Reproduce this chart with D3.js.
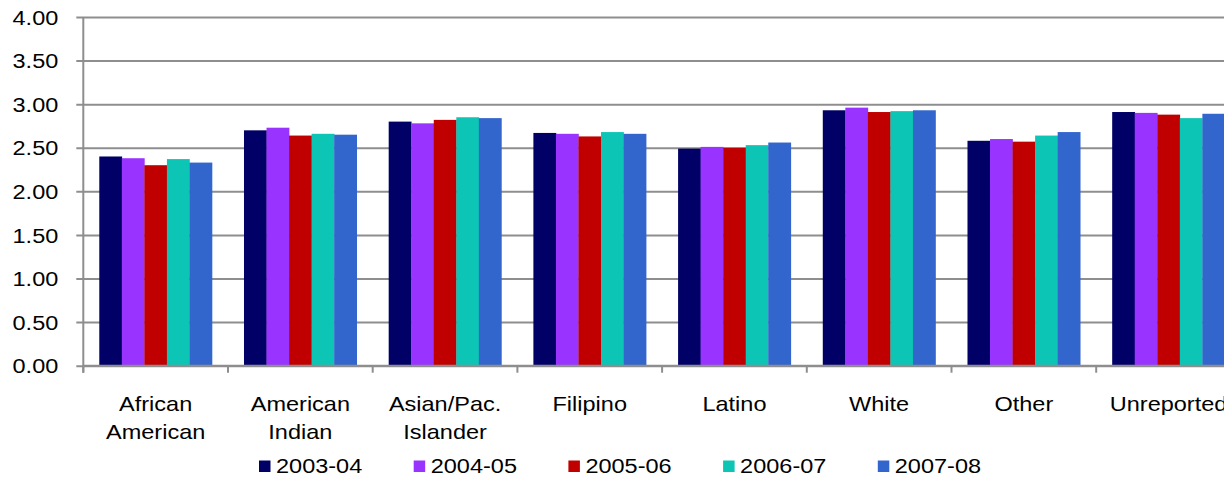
<!DOCTYPE html>
<html>
<head>
<meta charset="utf-8">
<script src="https://cdn.jsdelivr.net/npm/d3@7"></script>
<style>
  html, body { margin: 0; padding: 0; background: #fff; }
  svg { display: block; }
  text { font-family: "Liberation Sans", Arial, sans-serif; fill: #000; }
</style>
</head>
<body>
<svg id="chart" width="1224" height="479"></svg>
<script>
const categories = ["African American", "American Indian", "Asian/Pac. Islander", "Filipino", "Latino", "White", "Other", "Unreported"];
const seriesNames = ["2003-04", "2004-05", "2005-06", "2006-07", "2007-08"];
const s2003 = [2.40, 2.70, 2.80, 2.67, 2.49, 2.93, 2.58, 2.91];
const s2004 = [2.38, 2.73, 2.78, 2.66, 2.51, 2.96, 2.60, 2.90];
const s2005 = [2.30, 2.64, 2.82, 2.63, 2.50, 2.91, 2.57, 2.88];
const s2006 = [2.37, 2.66, 2.85, 2.68, 2.53, 2.92, 2.64, 2.84];
const s2007 = [2.33, 2.65, 2.84, 2.66, 2.56, 2.93, 2.68, 2.89];
const seriesValues = [s2003, s2004, s2005, s2006, s2007];
const colors = ["#000066", "#9933FF", "#C00000", "#0CC5B4", "#3366CC"];
const yTicks = [0, 0.5, 1, 1.5, 2, 2.5, 3, 3.5, 4];

(function () {
const svg = d3.select("#chart");
const pLeft = 83.3, step = 144.7;
const pRight = pLeft + step * categories.length;
const pTop = 17, pBottom = 365.7;
const sx = 1.12, fs = 21;

const y = d3.scaleLinear().domain([0, 4]).range([pBottom, pTop]);
const x0 = d3.scaleBand().domain(categories).range([pLeft, pRight])
  .paddingInner(0.221).paddingOuter(0.1105);
const x1 = d3.scaleBand().domain(seriesNames).range([0, x0.bandwidth()]);

// gridlines + y labels
const yAxis = svg.append("g").attr("transform", `translate(${pLeft},0)`)
  .call(d3.axisLeft(y).tickValues(yTicks).tickFormat(d3.format(".2f")).tickSize(0).tickPadding(0));
yAxis.select(".domain").remove();
yAxis.selectAll(".tick line")
  .attr("x1", -7).attr("x2", pRight - pLeft)
  .attr("stroke", "#8e8e8e").attr("stroke-width", 2);
yAxis.selectAll(".tick text")
  .attr("x", null).attr("dy", "0.34em")
  .attr("transform", `translate(-25,0) scale(${sx},1)`)
  .attr("font-size", fs).attr("text-anchor", "end").attr("fill", "#000");

// bars
const rows = categories.map((c, i) => ({ c, vals: seriesNames.map((s, j) => ({ s, v: seriesValues[j][i], color: colors[j] })) }));
const groups = svg.append("g").selectAll("g").data(rows).join("g")
  .attr("transform", d => `translate(${x0(d.c)},0)`);
groups.selectAll("rect").data(d => d.vals).join("rect")
  .attr("x", d => x1(d.s))
  .attr("width", x1.bandwidth() + 0.3)
  .attr("y", d => y(d.v))
  .attr("height", d => y(0) - y(d.v))
  .attr("fill", d => d.color);

// y axis line
svg.append("line").attr("x1", pLeft).attr("x2", pLeft).attr("y1", pTop).attr("y2", pBottom + 7)
  .attr("stroke", "#8e8e8e").attr("stroke-width", 2);

// x axis
const xAxis = svg.append("g").attr("transform", `translate(0,${pBottom})`)
  .call(d3.axisBottom(x0).tickSize(0).tickPadding(0));
xAxis.select(".domain").attr("stroke", "#8e8e8e").attr("stroke-width", 2)
  .attr("d", `M${pLeft},0H${pRight}`);
const boundaries = categories.map(c => x0(c) - (x0.step() - x0.bandwidth()) / 2).concat([pRight]);
xAxis.selectAll(".bound").data(boundaries).join("line").attr("class", "bound")
  .attr("x1", d => d).attr("x2", d => d).attr("y1", 0).attr("y2", 7)
  .attr("stroke", "#8e8e8e").attr("stroke-width", 2);
xAxis.selectAll(".tick text").each(function(d) {
  const t = d3.select(this);
  t.text(null).attr("y", null).attr("dy", null)
    .attr("transform", `translate(0,45) scale(${sx},1)`)
    .attr("font-size", fs).attr("text-anchor", "middle").attr("fill", "#000");
  d.split(" ").forEach((w, i) => {
    t.append("tspan").attr("x", 0).attr("y", i * 28).text(w);
  });
});

// legend
const legend = svg.append("g").selectAll("g").data(seriesNames).join("g")
  .attr("transform", (d, i) => `translate(${259 + i * 154.7},0)`);
legend.append("rect").attr("x", 0).attr("y", 460.5).attr("width", 11.5).attr("height", 11.5)
  .attr("fill", (d, i) => colors[i]);
legend.append("text")
  .attr("transform", `translate(17,473) scale(${sx},1)`)
  .attr("font-size", fs).text(d => d);
})();
</script>
</body>
</html>
